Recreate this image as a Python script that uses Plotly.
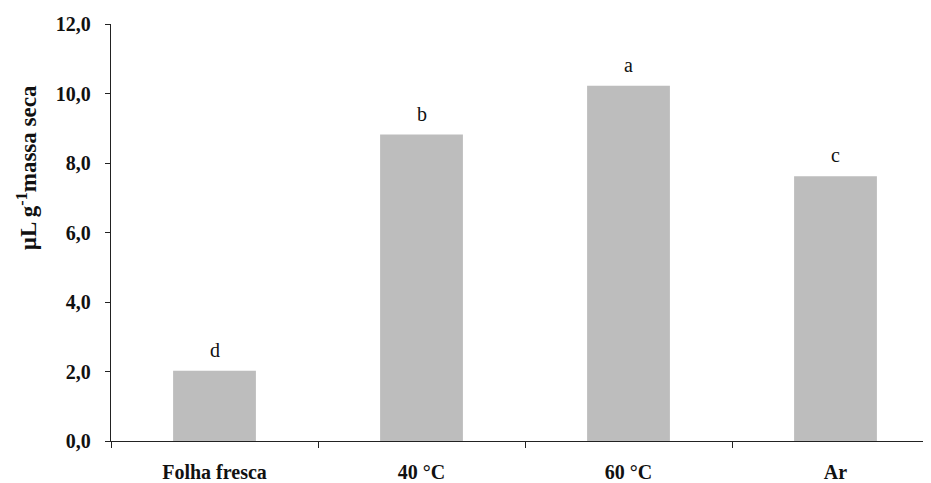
import plotly.graph_objects as go

categories = ["Folha fresca", "40 °C", "60 °C", "Ar"]
values = [2.02, 8.82, 10.22, 7.62]
letters = ["d", "b", "a", "c"]
ytick_vals = [0, 2, 4, 6, 8, 10, 12]
ytick_text = ["0,0", "2,0", "4,0", "6,0", "8,0", "10,0", "12,0"]

fig = go.Figure(go.Bar(
    x=categories, y=values,
    marker=dict(color="#bdbdbd", line=dict(width=0)),
    width=0.40, cliponaxis=False,
))

for c, v, t in zip(categories, values, letters):
    fig.add_annotation(x=c, y=v, text=t, showarrow=False, yanchor="bottom",
                       yshift=8, font=dict(family="Liberation Serif", size=20, color="#111"))

fig.add_annotation(xref="paper", yref="paper", x=-0.101, y=0.655,
                   text="µL g<sup>-1</sup>massa seca", textangle=-90, showarrow=False,
                   xanchor="center", yanchor="middle",
                   font=dict(family="Liberation Serif", size=23, color="#111", weight="bold"))

fig.update_layout(
    width=931, height=483,
    margin=dict(l=103, r=0, t=16, b=50),
    paper_bgcolor="white", plot_bgcolor="white",
    showlegend=False,
    font=dict(family="Liberation Serif", color="#111"),
)
fig.update_xaxes(
    range=[-0.5, 3.5], showline=True, linecolor="#222", linewidth=1.3,
    ticks="outside", tickson="boundaries", ticklen=6, tickcolor="#222",
    tickfont=dict(family="Liberation Serif", size=20, color="#111", weight="bold"),
    ticklabelstandoff=13, showgrid=False,
)
fig.update_yaxes(
    range=[0, 12], tickvals=ytick_vals, ticktext=ytick_text,
    showline=True, linecolor="#222", linewidth=1.3,
    ticks="outside", ticklen=5, tickcolor="#222",
    tickfont=dict(family="Liberation Serif", size=20, color="#111", weight="bold"),
    ticklabelstandoff=10, showgrid=False, zeroline=False,
)

fig.write_html("out.html")
